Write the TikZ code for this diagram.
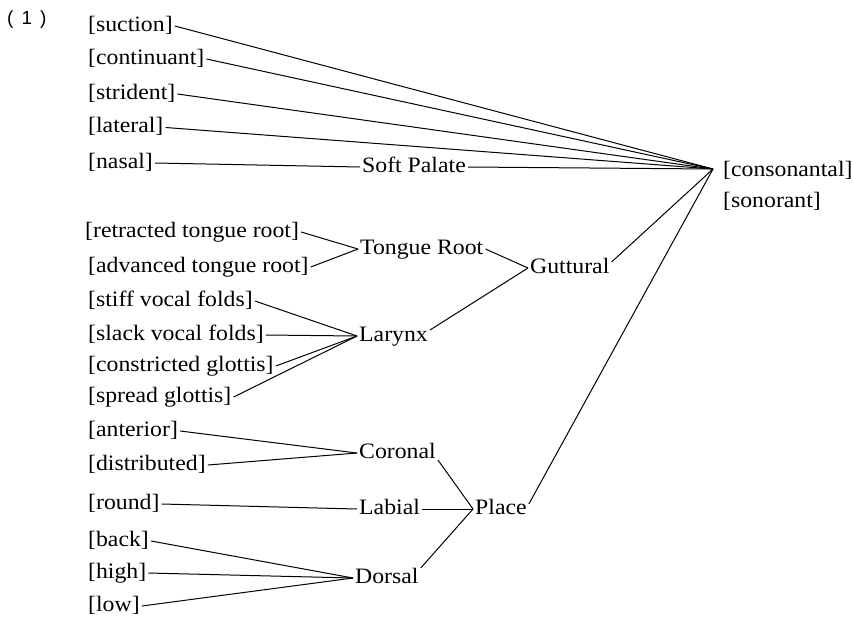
\documentclass[tikz,border=0pt]{standalone}
\usepackage{fontspec}
\setmainfont[FakeStretch=1.08]{Liberation Serif}
\newfontfamily\exlabelfont{Liberation Sans}
\begin{document}
\begin{tikzpicture}[x=1pt,y=-1pt,
  feat/.style={font=\fontsize{22}{26}\selectfont, inner sep=2pt,
    text height=14.5pt, text depth=3.9pt, anchor=west},
  exnum/.style={font=\exlabelfont\fontsize{19}{22}\selectfont, inner sep=0pt, anchor=west},
  ln/.style={line width=1pt}]
\useasboundingbox (0,0) rectangle (853,619);
\node[exnum] (num) at (7,20) {(\hspace{8pt}1\hspace{8pt})};
% top group
\node[feat] (suc) at (86,26) {[suction]};
\node[feat] (cont) at (86,59) {[continuant]};
\node[feat] (stri) at (86,94) {[strident]};
\node[feat] (lat) at (86,127.5) {[lateral]};
\node[feat] (nas) at (86,163) {[nasal]};
\node[feat] (soft) at (360,167) {Soft Palate};
\node[feat] (cons) at (721,171) {[consonantal]};
\node[feat] (son) at (721,202) {[sonorant]};
\coordinate (cj) at (713,169);
% guttural
\node[feat] (rtr) at (83,232) {[retracted tongue root]};
\node[feat] (atr) at (86,267) {[advanced tongue root]};
\node[feat] (troot) at (358,249) {Tongue Root};
\node[feat] (stiff) at (86,301) {[stiff vocal folds]};
\node[feat] (slack) at (86,335) {[slack vocal folds]};
\node[feat] (cg) at (86,366) {[constricted glottis]};
\node[feat] (sg) at (86,397) {[spread glottis]};
\node[feat] (lar) at (357,336) {Larynx};
\node[feat] (gut) at (528,268) {Guttural};
% place
\node[feat] (ant) at (86,431) {[anterior]};
\node[feat] (dist) at (86,465) {[distributed]};
\node[feat] (round) at (86,504) {[round]};
\node[feat] (back) at (86,541) {[back]};
\node[feat] (high) at (86,573) {[high]};
\node[feat] (low) at (86,606) {[low]};
\node[feat] (cor) at (357,453) {Coronal};
\node[feat] (lab) at (357,509) {Labial};
\node[feat] (dor) at (353,578) {Dorsal};
\node[feat] (place) at (473,509) {Place};
% connectors
\draw[ln] (suc.east) -- (cj);
\draw[ln] (cont.east) -- (cj);
\draw[ln] (stri.east) -- (cj);
\draw[ln] (lat.east) -- (cj);
\draw[ln] (nas.east) -- (soft.west);
\draw[ln] (soft.east) -- (cj);
\draw[ln] ([yshift=6pt]gut.east) -- (cj);
\draw[ln] ([yshift=5pt]place.east) -- (cj);
\draw[ln] (rtr.east) -- (troot.west);
\draw[ln] (atr.east) -- (troot.west);
\draw[ln] (troot.east) -- (gut.west);
\draw[ln] ([yshift=6pt]lar.east) -- (gut.west);
\draw[ln] (stiff.east) -- (lar.west);
\draw[ln] (slack.east) -- (lar.west);
\draw[ln] (cg.east) -- (lar.west);
\draw[ln] (sg.east) -- (lar.west);
\draw[ln] (ant.east) -- (cor.west);
\draw[ln] (dist.east) -- (cor.west);
\draw[ln] (round.east) -- (lab.west);
\draw[ln] (back.east) -- (dor.west);
\draw[ln] (high.east) -- (dor.west);
\draw[ln] (low.east) -- (dor.west);
\draw[ln] ([yshift=-7pt]cor.east) -- (place.west);
\draw[ln] (lab.east) -- (place.west);
\draw[ln] ([yshift=10pt]dor.east) -- (place.west);
\end{tikzpicture}
\end{document}
